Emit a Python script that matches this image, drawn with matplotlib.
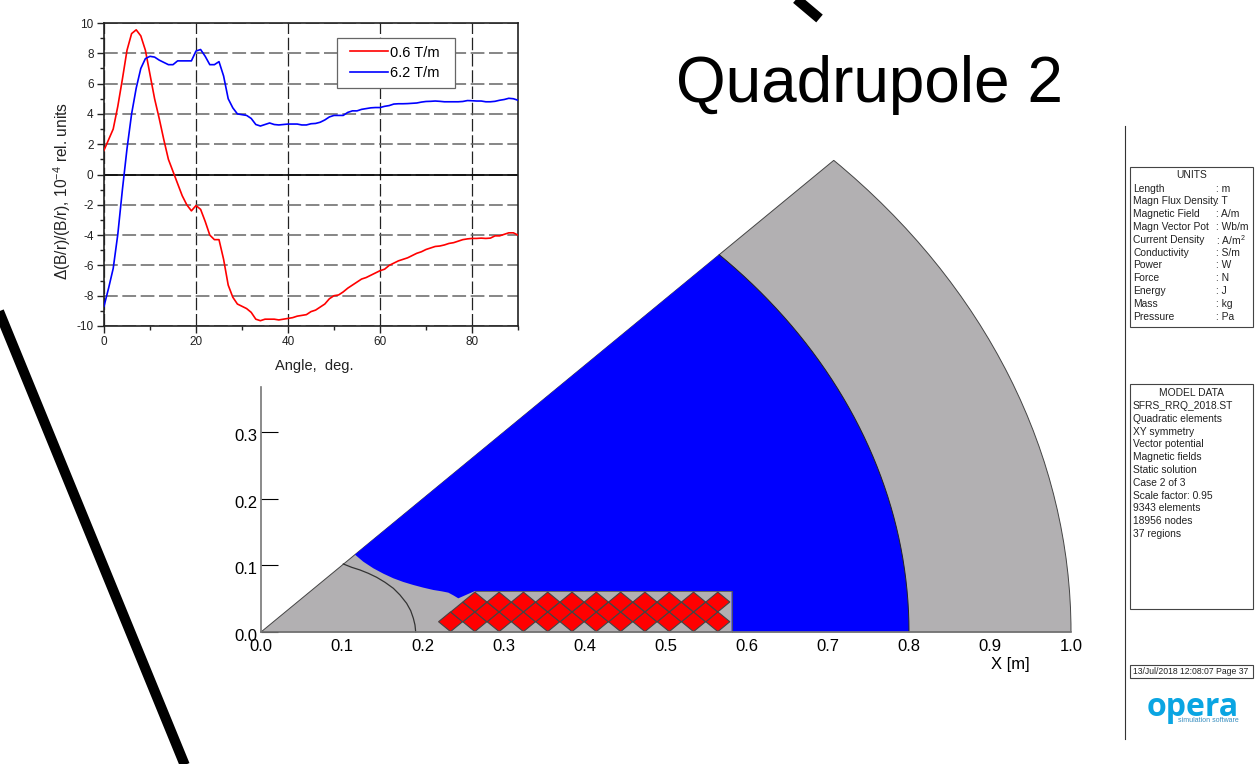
import numpy as np
import matplotlib
matplotlib.use("Agg")
import matplotlib.pyplot as plt
from matplotlib.patches import Wedge, Polygon, Rectangle
from matplotlib.ticker import MultipleLocator
from matplotlib.transforms import ScaledTranslation

plt.rcParams['font.family'] = ['Liberation Sans', 'DejaVu Sans']
plt.rcParams['mathtext.default'] = 'regular'
plt.rcParams['axes.unicode_minus'] = False

W, H = 1258, 764

# ---- inset data
angle = list(range(0, 91))
grad_low = [1.6,2.3,3.0,4.5,6.3,8.2,9.3,9.55,9.15,8.2,6.6,5.0,3.7,2.3,1.0,0.2,-0.6,-1.4,-2.0,-2.4,
            -2.05,-2.3,-3.1,-4.0,-4.3,-4.3,-5.6,-7.3,-8.1,-8.55,-8.7,-8.85,-9.1,-9.55,-9.65,-9.55,-9.55,-9.55,-9.6,-9.55,
            -9.5,-9.45,-9.35,-9.3,-9.25,-9.05,-8.95,-8.75,-8.55,-8.2,-8.0,-7.95,-7.75,-7.5,-7.3,-7.1,-6.9,-6.8,-6.65,-6.5,
            -6.35,-6.25,-6.0,-5.85,-5.7,-5.6,-5.5,-5.35,-5.2,-5.1,-4.95,-4.85,-4.75,-4.72,-4.65,-4.55,-4.5,-4.4,-4.3,-4.25,
            -4.22,-4.22,-4.2,-4.22,-4.2,-4.05,-4.05,-3.95,-3.85,-3.85,-4.0]
grad_high = [-8.7,-7.5,-6.2,-3.95,-1.0,1.7,4.0,5.7,7.0,7.65,7.8,7.75,7.55,7.4,7.25,7.25,7.5,7.5,7.5,7.5,
             8.15,8.25,7.8,7.25,7.25,7.45,6.5,5.0,4.4,4.0,3.95,3.9,3.7,3.3,3.2,3.3,3.4,3.3,3.27,3.3,
             3.33,3.33,3.33,3.27,3.27,3.35,3.37,3.45,3.6,3.8,3.9,3.9,3.9,4.1,4.2,4.2,4.3,4.35,4.4,4.42,
             4.42,4.5,4.55,4.65,4.67,4.67,4.68,4.7,4.72,4.78,4.82,4.83,4.85,4.83,4.8,4.8,4.8,4.8,4.82,4.88,
             4.87,4.85,4.85,4.8,4.8,4.83,4.9,4.95,5.03,5.0,4.9]
legend_labels = ['0.6 T/m', '6.2 T/m']

# ---- magnet geometry (metres)
outer_radius = 1.0
yoke_radius = 0.8
pole_edge_x = [0.116,0.1263,0.1387,0.151,0.1634,0.1757,0.188,0.2004,0.2128,0.223,0.2313,0.2374,0.2436,0.2539,0.2642,0.581,0.581]
pole_edge_y = [0.116,0.1054,0.0955,0.0875,0.0805,0.075,0.0705,0.0665,0.063,0.061,0.059,0.055,0.0505,0.056,0.0615,0.0615,0.0]
inner_x = [0.1016,0.1119,0.1222,0.1325,0.1428,0.1531,0.1634,0.1716,0.1798,0.1848,0.1881,0.1901,0.191]
inner_y = [0.102,0.097,0.093,0.088,0.082,0.0745,0.0655,0.0555,0.043,0.032,0.0205,0.0105,0.0]
coil_rows_y = [0.0154, 0.030, 0.045]
coil_rows_x = [
    [0.234,0.264,0.294,0.324,0.354,0.384,0.414,0.444,0.474,0.504,0.534,0.564],
    [0.249,0.279,0.309,0.339,0.369,0.399,0.429,0.459,0.489,0.519,0.549],
    [0.264,0.294,0.324,0.354,0.384,0.414,0.444,0.474,0.504,0.534,0.564],
]
coil_half = 0.0148
x_ticks = [0.0,0.1,0.2,0.3,0.4,0.5,0.6,0.7,0.8,0.9,1.0]
y_ticks = [0.0,0.1,0.2,0.3]

units_rows = [('Length','m'),('Magn Flux Density','T'),('Magnetic Field','A/m'),('Magn Vector Pot','Wb/m'),
              ('Current Density','A/m$^2$'),('Conductivity','S/m'),('Power','W'),('Force','N'),
              ('Energy','J'),('Mass','kg'),('Pressure','Pa')]
model_rows = ['SFRS_RRQ_2018.ST','Quadratic elements','XY symmetry','Vector potential','Magnetic fields',
              'Static solution','Case 2 of 3','Scale factor: 0.95','9343 elements','18956 nodes','37 regions']

GRAY = '#b2b0b2'
fig = plt.figure(figsize=(W/100, H/100), dpi=100, facecolor='white')

def rect(l, t, r, b):
    return [l/W, 1-b/H, (r-l)/W, (b-t)/H]

# page overlay in pixel coordinates
pg = fig.add_axes([0,0,1,1], zorder=0)
pg.set_xlim(0,W); pg.set_ylim(H,0); pg.axis('off')
pg.plot([-4,186],[304,768],color='black',lw=7.3,solid_capstyle='butt')
pg.plot([794,819.5],[-3,18.5],color='black',lw=7.3,solid_capstyle='butt')
pg.text(869,102,'Quadrupole 2',fontsize=46,ha='center',va='baseline',color='black')
pg.plot([1125,1125],[126,739],color='#333333',lw=0.8)
for (t,b) in [(167,327),(384,608.5),(665,678)]:
    pg.add_patch(Rectangle((1130,t),123,b-t,fc='white',ec='#444444',lw=0.8))
tc = '#222222'; fs = 7.4
pg.text(1191.5,175,'UNITS',fontsize=fs,ha='center',va='center',color=tc)
for i,(a,b) in enumerate(units_rows):
    y = 188.5+i*12.8
    pg.text(1133,y,a,fontsize=fs,va='center',color=tc)
    pg.text(1216.5,y,': '+b,fontsize=fs,va='center',color=tc)
pg.text(1191.5,393,'MODEL DATA',fontsize=fs,ha='center',va='center',color=tc)
for i,s in enumerate(model_rows):
    pg.text(1133,406+i*12.8,s,fontsize=fs,va='center',color=tc)
pg.text(1133,671.5,'13/Jul/2018 12:08:07 Page 37',fontsize=6.2,va='center',color=tc)
pg.text(1193,708,'opera',fontsize=23,weight='bold',ha='center',va='center',color='#0aa5e2',family='Open Sans')
pg.text(1208,721,'simulation software',fontsize=5,ha='center',va='center',color='#3a8fc0')
pg.text(1010,664,'X [m]',fontsize=12,ha='center',va='center',color='black')

# main field plot
ymax = (632-387)/667
ax = fig.add_axes(rect(261,387,1071,632), zorder=1)
ax.patch.set_alpha(0)
ax.set_xlim(0,1.0); ax.set_ylim(0,ymax)
ax.add_patch(Wedge((0,0),outer_radius,0,45,fc=GRAY,ec='#444444',lw=0.7,clip_on=False,zorder=1))
arc = np.radians(np.linspace(0,45,200))
bx = list(pole_edge_x)+[yoke_radius]+list(yoke_radius*np.cos(arc))
by = list(pole_edge_y)+[0.0]+list(yoke_radius*np.sin(arc))
ax.add_patch(Polygon(np.column_stack([bx,by]),closed=True,fc='#0000ff',ec='none',clip_on=False,zorder=2))
ax.plot(yoke_radius*np.cos(arc),yoke_radius*np.sin(arc),color='#222222',lw=0.7,clip_on=False,zorder=3)
ax.plot(pole_edge_x[-3:],pole_edge_y[-3:],color='#555555',lw=0.6,clip_on=False,zorder=3)
ax.plot(inner_x,inner_y,color='#333333',lw=0.9,clip_on=False,zorder=3)
for yc,xs in zip(coil_rows_y,coil_rows_x):
    for xc in xs:
        ax.add_patch(Polygon([(xc-coil_half,yc),(xc,yc+coil_half),(xc+coil_half,yc),(xc,yc-coil_half)],
                             closed=True,fc='#ff0000',ec='#444444',lw=0.8,zorder=4))
for s in ['top','right']:
    ax.spines[s].set_visible(False)
for s in ['left','bottom']:
    ax.spines[s].set_color('#777777'); ax.spines[s].set_linewidth(1.2); ax.spines[s].set_zorder(5)
ax.set_xticks(x_ticks); ax.set_xticklabels([f'{v:.1f}' for v in x_ticks])
ax.set_yticks(y_ticks); ax.set_yticklabels([f'{v:.1f}' for v in y_ticks])
ax.tick_params(axis='x',length=0,pad=5,labelsize=12,colors='black')
ax.tick_params(axis='y',direction='in',length=12,width=0.8,pad=2.5,labelsize=12,colors='black')
shift = ScaledTranslation(0,-3/100,fig.dpi_scale_trans)
for lab in ax.get_yticklabels():
    lab.set_transform(lab.get_transform()+shift)

# inset
ins = fig.add_axes(rect(104,23,518,326), zorder=2)
ins.set_xlim(0,90); ins.set_ylim(-10,10)
ins.xaxis.set_major_locator(MultipleLocator(20)); ins.xaxis.set_minor_locator(MultipleLocator(10))
ins.yaxis.set_major_locator(MultipleLocator(2)); ins.yaxis.set_minor_locator(MultipleLocator(1))
ins.xaxis.grid(True,color='#222222',ls=(0,(10,3)),lw=0.9)
ins.yaxis.grid(True,color='#666666',ls=(0,(9,3)),lw=1.1)
ins.set_axisbelow(True)
ins.axhline(0,color='black',lw=1.2,zorder=2)
l1,=ins.plot(angle,grad_low,color='#ff0000',lw=1.2,label=legend_labels[0],zorder=3)
l2,=ins.plot(angle,grad_high,color='#0000ff',lw=1.2,label=legend_labels[1],zorder=3)
for s in ins.spines.values():
    s.set_linewidth(1.2); s.set_color('#222222')
ins.tick_params(which='major',length=5,width=1,labelsize=8.5,colors='#222222',pad=2.5)
ins.tick_params(which='minor',length=3,width=1,colors='#222222')
ins.set_xlabel('Angle,  deg.',fontsize=10.5,color='#222222')
ins.xaxis.set_label_coords((314-104)/414,(326-359)/303)
ins.set_ylabel('Δ(B/r)/(B/r), 10$^{-4}$ rel. units',fontsize=11.2,color='#222222',va='center')
ins.yaxis.set_label_coords((62-104)/414,(326-191)/303)
ins.add_patch(Rectangle(((337-104)/414,(326-88)/303),118/414,50/303,transform=ins.transAxes,
                        fc='white',ec='#666666',lw=0.9,zorder=4))
leg = ins.legend(handles=[l1,l2],loc='upper left',bbox_to_anchor=((350-104)/414,(326-45.5)/303),
                 borderaxespad=0,borderpad=0,fontsize=10.5,frameon=False,
                 handlelength=2.6,handletextpad=0.15,labelspacing=0.42)
leg.set_zorder(5)

fig.savefig('out.png',dpi=100)
